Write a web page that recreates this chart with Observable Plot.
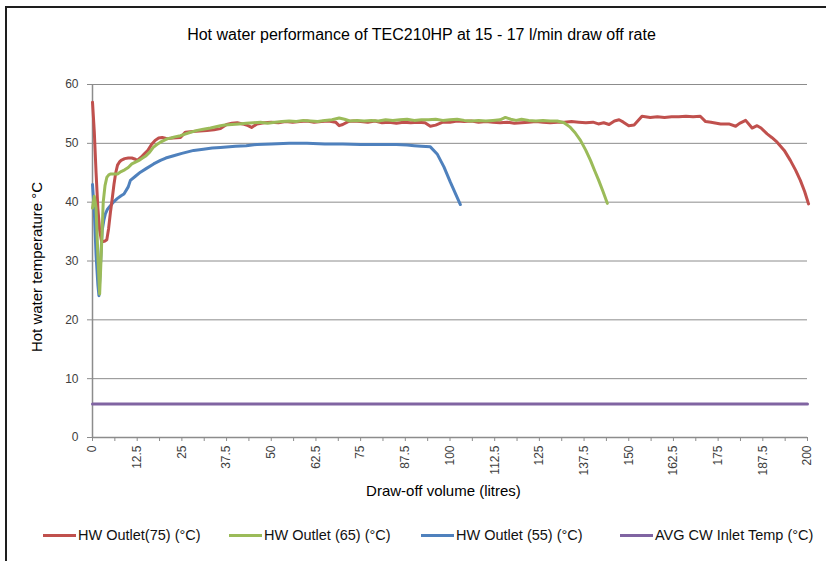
<!DOCTYPE html>
<html>
<head>
<meta charset="utf-8">
<script src="https://cdn.jsdelivr.net/npm/d3@7"></script>
<script src="https://cdn.jsdelivr.net/npm/@observablehq/plot@0.6"></script>
<style>
  body { margin: 0; background: #fff; }
  #wrap { position: relative; width: 826px; height: 561px; overflow: hidden; background: #fff;
          font-family: "Liberation Sans", Arial, Helvetica, sans-serif; color: #000; }
  #plot { position: absolute; left: 0; top: 0; }
  #frame { position: absolute; left: 5px; top: 6px; width: 900px; height: 700px; box-sizing: border-box;
           border-left: 2px solid #1e1e1e; border-top: 2px solid #1e1e1e; pointer-events: none; }
  #title { position: absolute; left: 0; width: 843px; top: 26px; text-align: center; font-size: 16px; line-height: 18px; white-space: nowrap; }
  #xtitle { position: absolute; left: 0; width: 887px; top: 482px; text-align: center; font-size: 15px; line-height: 18px; white-space: nowrap; }
  #ytitle { position: absolute; left: 37px; top: 267px; transform: translate(-50%, -50%) rotate(-90deg);
            font-size: 15px; line-height: 18px; white-space: nowrap; }
  .lg-line { position: absolute; height: 3px; top: 534px; width: 33px; }
  .lg-text { position: absolute; top: 526px; font-size: 14.5px; line-height: 18px; white-space: nowrap; color: #111; }
</style>
</head>
<body>
<div id="wrap">
  <div id="plot"></div>
  <div id="frame"></div>
  <div id="title">Hot water performance of TEC210HP at 15 - 17 l/min draw off rate</div>
  <div id="xtitle">Draw-off volume (litres)</div>
  <div id="ytitle">Hot water temperature °C</div>
  <div id="legend"></div>
</div>
<script>
// ---- Series names & colours ----
const seriesNames = ["HW Outlet(75) (°C)", "HW Outlet (65) (°C)", "HW Outlet (55) (°C)", "AVG CW Inlet Temp (°C)"];
const seriesColors = ["#C0504D", "#9BBB59", "#4F81BD", "#8064A2"];

// ---- Axis ticks ----
const yTicks = [0, 10, 20, 30, 40, 50, 60];
const yGrid = [10, 20, 30, 40, 50, 60];
const xTickLabels = [0, 12.5, 25, 37.5, 50, 62.5, 75, 87.5, 100, 112.5, 125, 137.5, 150, 162.5, 175, 187.5, 200];
const xMinorTicks = [0, 6.25, 12.5, 18.75, 25, 31.25, 37.5, 43.75, 50, 56.25, 62.5, 68.75, 75, 81.25, 87.5, 93.75, 100,
  106.25, 112.5, 118.75, 125, 131.25, 137.5, 143.75, 150, 156.25, 162.5, 168.75, 175, 181.25, 187.5, 193.75, 200];

// ---- HW Outlet (75) ----
const hw75Vol = [0, 0.5, 1, 1.5, 2, 2.5, 3, 3.5, 4, 4.5, 5, 5.5, 6, 6.5, 7, 7.5, 8, 9, 10, 11, 12, 12.5, 13.5, 14.5, 15.5, 16.5,
  17.5, 18.5, 19.5, 20.9, 22.5, 24.6, 26, 28, 30, 32, 34, 35.8, 37.5, 39, 40.5, 42, 43.5, 44.5, 46, 48,
  50, 52, 54, 56, 58, 60, 62, 64, 66, 68, 69, 70, 71.5, 73, 75, 77, 79, 81, 83, 85, 87, 89, 91, 93, 94.5, 96, 98,
  100, 102, 104, 106, 108, 110, 112, 114, 116, 118, 120, 122, 124, 126, 128, 130, 132, 134, 136, 138, 140, 141.5,
  143, 144.5, 146, 147.3, 148.5, 150, 151.5, 153.7, 156, 158, 160, 162, 164, 166, 168, 170, 171.5, 173, 175.7, 178,
  179.9, 181, 182.7, 184.5, 185.9, 187, 188.7, 190, 191.5, 193.5, 195.2, 196.7, 198, 199.2, 200.3];
const hw75Temp = [57, 52, 45, 39, 35.2, 33.5, 33.3, 33.4, 33.6, 35.5, 38.2, 40.5, 43, 45, 46.3, 46.8, 47.1, 47.4, 47.5, 47.5, 47.3, 47.1, 47.6, 48.2, 48.8, 49.8,
  50.5, 50.9, 51, 50.8, 50.9, 51.0, 51.9, 52.0, 52.1, 52.2, 52.3, 52.5, 53.2, 53.4, 53.5, 53.3, 53.0, 52.7, 53.3, 53.5,
  53.6, 53.5, 53.7, 53.6, 53.7, 53.8, 53.6, 53.7, 53.8, 53.6, 53.0, 53.2, 53.7, 53.8, 53.7, 53.6, 53.8, 53.5, 53.6, 53.4, 53.6, 53.5, 53.6, 53.5, 52.9, 53.1, 53.6,
  53.6, 53.8, 53.7, 53.8, 53.6, 53.7, 53.6, 53.5, 53.6, 53.4, 53.5, 53.6, 53.7, 53.6, 53.5, 53.6, 53.6, 53.7, 53.6, 53.5, 53.6, 53.3,
  53.5, 53.2, 53.8, 54.0, 53.6, 53.0, 53.1, 54.6, 54.4, 54.5, 54.4, 54.5, 54.5, 54.6, 54.5, 54.6, 53.7, 53.6, 53.3, 53.3,
  52.9, 53.4, 53.9, 52.6, 53.0, 52.6, 51.6, 51.0, 50.2, 48.8, 47.1, 45.4, 43.7, 41.8, 39.7];

// ---- HW Outlet (65) ----
const hw65Vol = [0, 0.5, 1, 1.5, 2, 2.5, 3, 3.5, 4, 4.5, 5, 6, 7, 8, 9, 10, 11, 12, 13, 14, 15, 16, 17, 18, 19, 20, 21, 22, 23, 24.6,
  27, 29.3, 31, 33, 35.8, 37, 39, 41, 43, 45, 47, 49, 51, 53, 55, 57, 59, 61, 63, 65, 67, 69, 70.5, 72, 74, 76, 78, 80,
  82, 84, 86, 88, 90, 92, 94, 96, 98, 100, 102, 104, 106, 108, 110, 112, 114, 115.5, 117, 118.5, 120, 122, 124, 126,
  128, 130, 131.9, 133.5, 135, 136.5, 138, 139.3, 140.5, 141.6, 142.8, 144];
const hw65Temp = [39, 41, 39, 31, 24.4, 32, 40, 42.8, 44.2, 44.6, 44.8, 44.8, 44.8, 45.2, 45.5, 45.9, 46.5, 46.8, 47.1, 47.5, 47.9, 48.5, 49.3, 49.8, 50.2, 50.5, 50.8, 50.9, 51.1, 51.3,
  51.8, 52.2, 52.4, 52.6, 53.0, 53.1, 53.2, 53.3, 53.4, 53.5, 53.6, 53.4, 53.6, 53.7, 53.8, 53.7, 53.9, 53.8, 53.7, 53.9, 54.0, 54.3, 54.1, 53.8, 53.9, 53.8, 53.9, 53.8,
  54.0, 53.9, 54.0, 54.1, 53.9, 54.0, 54.0, 54.1, 53.9, 54.0, 54.1, 53.9, 53.8, 53.9, 53.8, 53.9, 54.0, 54.4, 54.1, 53.9, 54.1, 53.9, 53.8, 53.9,
  53.8, 53.8, 53.5, 52.8, 51.8, 50.5, 48.8, 47.1, 45.3, 43.7, 41.8, 39.8];

// ---- HW Outlet (55) ----
const hw55Vol = [0, 0.5, 1, 1.5, 1.8, 2.2, 2.7, 3.2, 3.6, 4.2, 5, 6, 6.9, 8, 8.8, 10, 10.6, 12, 13.4, 15, 17.1, 19, 20.5, 22.7,
  25, 28.3, 31, 33.5, 35.8, 40, 43, 46, 50, 55, 60, 65, 70, 75, 80, 85, 88, 90, 92, 94.5, 96.4, 98.3, 100.1, 101.5, 102.9];
const hw55Temp = [43, 38.5, 31, 26, 24.1, 29, 35.2, 37, 38, 38.8, 39.4, 40.1, 40.6, 41.1, 41.4, 42.6, 43.7, 44.4, 45.1, 45.7, 46.5, 47.1, 47.5, 47.9,
  48.3, 48.8, 49.0, 49.2, 49.3, 49.5, 49.6, 49.8, 49.9, 50.0, 50.0, 49.9, 49.9, 49.8, 49.8, 49.8, 49.7, 49.6, 49.5, 49.4, 48.2, 46.0, 43.4, 41.5, 39.6];

// ---- AVG CW Inlet Temp ----
const cwVol = [0, 50, 100, 150, 200];
const cwTemp = [5.7, 5.7, 5.7, 5.7, 5.7];

const toRows = (xs, ys) => xs.map((v, i) => ({ vol: v, temp: ys[i] }));
const hw75 = toRows(hw75Vol, hw75Temp);
const hw65 = toRows(hw65Vol, hw65Temp);
const hw55 = toRows(hw55Vol, hw55Temp);
const cw = toRows(cwVol, cwTemp);

const lineOpts = (c) => ({ x: "vol", y: "temp", stroke: c, strokeWidth: 3, strokeLinejoin: "round", strokeLinecap: "round" });

const chart = Plot.plot({
  width: 826,
  height: 561,
  marginLeft: 92,
  marginRight: 19,
  marginTop: 84,
  marginBottom: 124,
  x: { domain: [0, 200] },
  y: { domain: [0, 60] },
  style: { fontFamily: '"Liberation Sans", Arial, sans-serif', fontSize: "12px", color: "#404040", background: "transparent" },
  marks: [
    Plot.ruleY(yGrid, { stroke: "#8c8c8c", strokeWidth: 1 }),
    Plot.ruleX([0], { stroke: "#8c8c8c", strokeWidth: 1.5 }),
    Plot.ruleY([0], { stroke: "#8c8c8c", strokeWidth: 1.5 }),
    Plot.axisY({ ticks: yTicks, tickSize: 5, tickPadding: 9, stroke: "#8c8c8c", label: null, tickFormat: (d) => String(d) }),
    Plot.axisX({ ticks: xMinorTicks, tickSize: 4, tickPadding: 4, tickRotate: -90, stroke: "#8c8c8c", label: null,
                 tickFormat: (d) => (xTickLabels.includes(d) ? String(d) : "") }),
    Plot.line(hw55, lineOpts(seriesColors[2])),
    Plot.line(hw75, lineOpts(seriesColors[0])),
    Plot.line(hw65, lineOpts(seriesColors[1])),
    Plot.line(cw, lineOpts(seriesColors[3]))
  ]
});
document.getElementById("plot").appendChild(chart);

// ---- Legend ----
const legendLineX = [43, 229, 421, 620];
const legend = document.getElementById("legend");
seriesNames.forEach((name, i) => {
  const ln = document.createElement("div");
  ln.className = "lg-line";
  ln.style.left = legendLineX[i] + "px";
  ln.style.background = seriesColors[i];
  legend.appendChild(ln);
  const tx = document.createElement("div");
  tx.className = "lg-text";
  tx.style.left = (legendLineX[i] + 35) + "px";
  tx.textContent = name;
  legend.appendChild(tx);
});
</script>
</body>
</html>
